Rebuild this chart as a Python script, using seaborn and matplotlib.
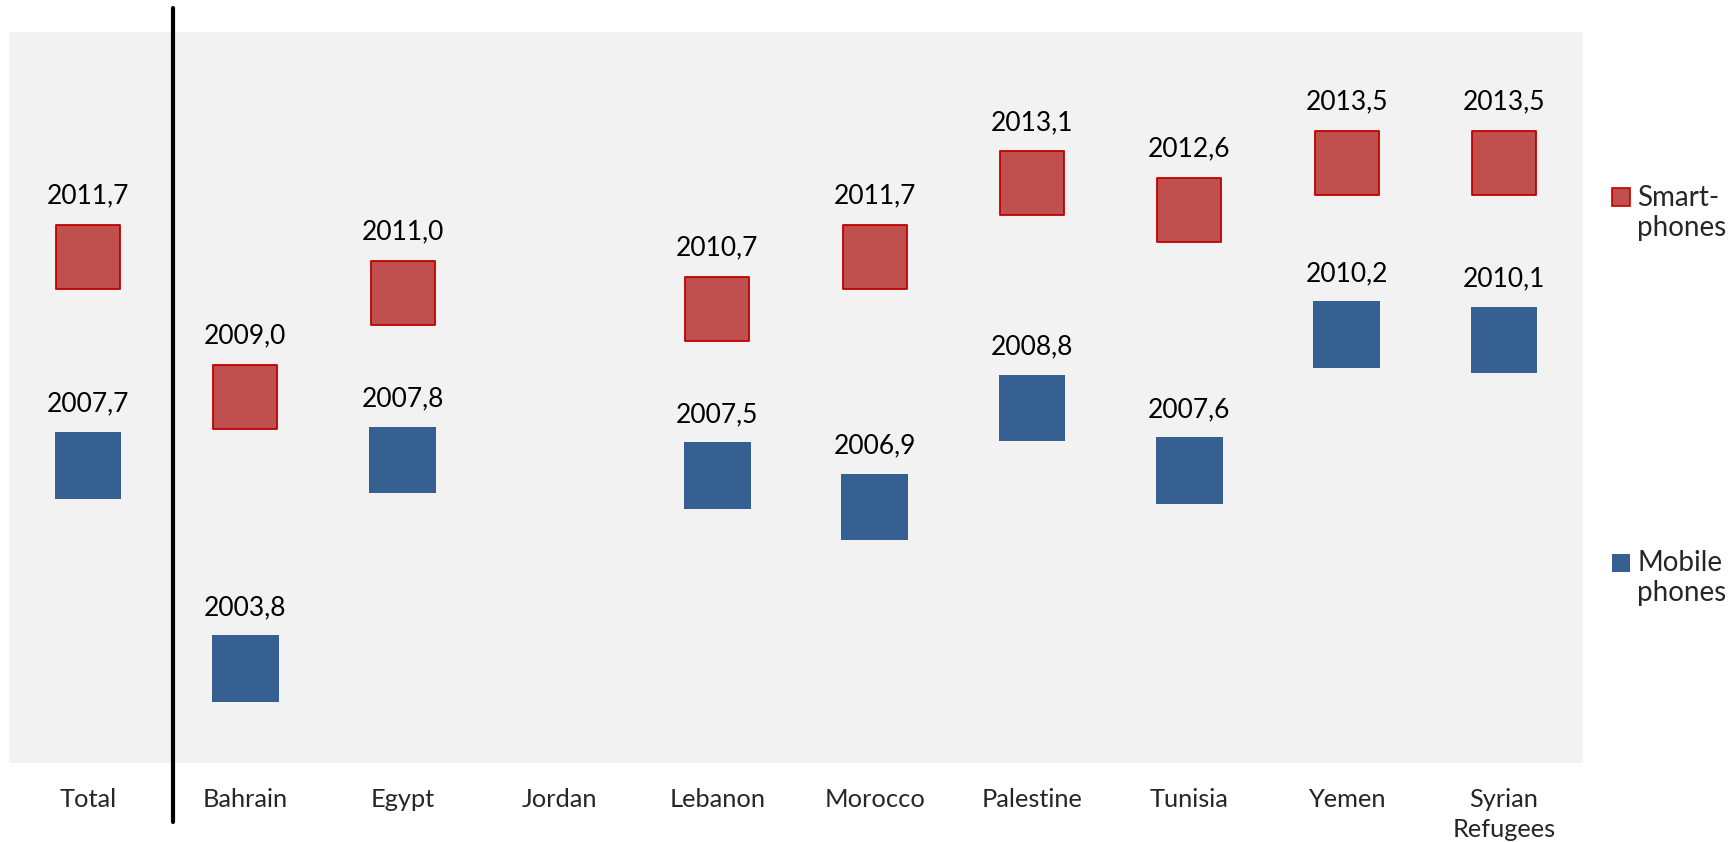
import numpy as np
import pandas as pd
import matplotlib
matplotlib.use("Agg")
import matplotlib.pyplot as plt
import seaborn as sns
from matplotlib.lines import Line2D

countries = ["Total", "Bahrain", "Egypt", "Jordan", "Lebanon", "Morocco",
             "Palestine", "Tunisia", "Yemen", "Syrian\nRefugees"]
smartphones = [2011.7, 2009.0, 2011.0, np.nan, 2010.7, 2011.7, 2013.1, 2012.6, 2013.5, 2013.5]
mobile_phones = [2007.7, 2003.8, 2007.8, np.nan, 2007.5, 2006.9, 2008.8, 2007.6, 2010.2, 2010.1]

RED = "#C0504D"
RED_EDGE = "#C00000"
BLUE = "#376092"
FONT = "Lato"


def main():
    sns.set_style("white")
    plt.rcParams["font.family"] = [FONT, "DejaVu Sans"]

    df = pd.DataFrame({
        "country": countries,
        "pos": np.arange(len(countries)),
        "Smart-phones": smartphones,
        "Mobile phones": mobile_phones,
    })

    fig = plt.figure(figsize=(17.36, 8.42), dpi=100)
    ax = fig.add_axes([0.0053, 0.0943, 0.9064, 0.8675])
    ax.set_facecolor("#F2F2F2")

    sns.scatterplot(data=df, x="pos", y="Mobile phones", marker="s", s=2300,
                    color=BLUE, edgecolor="none", linewidth=0, ax=ax, zorder=3)
    sns.scatterplot(data=df, x="pos", y="Smart-phones", marker="s", s=2180,
                    color=RED, edgecolor=RED_EDGE, linewidth=1.3, ax=ax, zorder=3)

    for col in ["Smart-phones", "Mobile phones"]:
        for p, v in zip(df["pos"], df[col]):
            if np.isnan(v):
                continue
            ax.annotate(f"{v:.1f}".replace(".", ","), (p, v), xytext=(0, 44),
                        textcoords="offset points", ha="center", va="center",
                        fontsize=19, color="black")

    ax.set_xlim(-0.5, len(countries) - 0.5)
    ax.set_ylim(2002, 2016)
    ax.set_xticks(df["pos"])
    ax.set_xticklabels(countries, fontsize=18.3, linespacing=1.4)
    ax.set_yticks([])
    ax.tick_params(axis="x", length=0, pad=18)
    ax.set_xlabel("")
    ax.set_ylabel("")
    sns.despine(ax=ax, left=True, bottom=True)

    # separator between Total and the countries
    ax.plot([0.541, 0.541], [-0.082, 1.033], color="black", lw=3.0,
            transform=ax.get_xaxis_transform(), clip_on=False, zorder=4)

    # legend on the right
    fig.add_artist(Line2D([1621 / 1736], [1 - 197 / 842], marker="s", markersize=13,
                          markerfacecolor=RED, markeredgecolor=RED_EDGE,
                          markeredgewidth=1.2, linestyle="none"))
    fig.add_artist(Line2D([1621 / 1736], [1 - 563 / 842], marker="s", markersize=13,
                          markerfacecolor=BLUE, markeredgecolor=BLUE,
                          markeredgewidth=0, linestyle="none"))
    fig.text(1637 / 1736, 1 - 185 / 842, "Smart-\nphones", fontsize=20,
             ha="left", va="top", linespacing=1.2)
    fig.text(1637 / 1736, 1 - 550 / 842, "Mobile\nphones", fontsize=20,
             ha="left", va="top", linespacing=1.2)

    fig.savefig("out.png", dpi=100, facecolor="white")
    plt.close(fig)


if __name__ == "__main__":
    main()
